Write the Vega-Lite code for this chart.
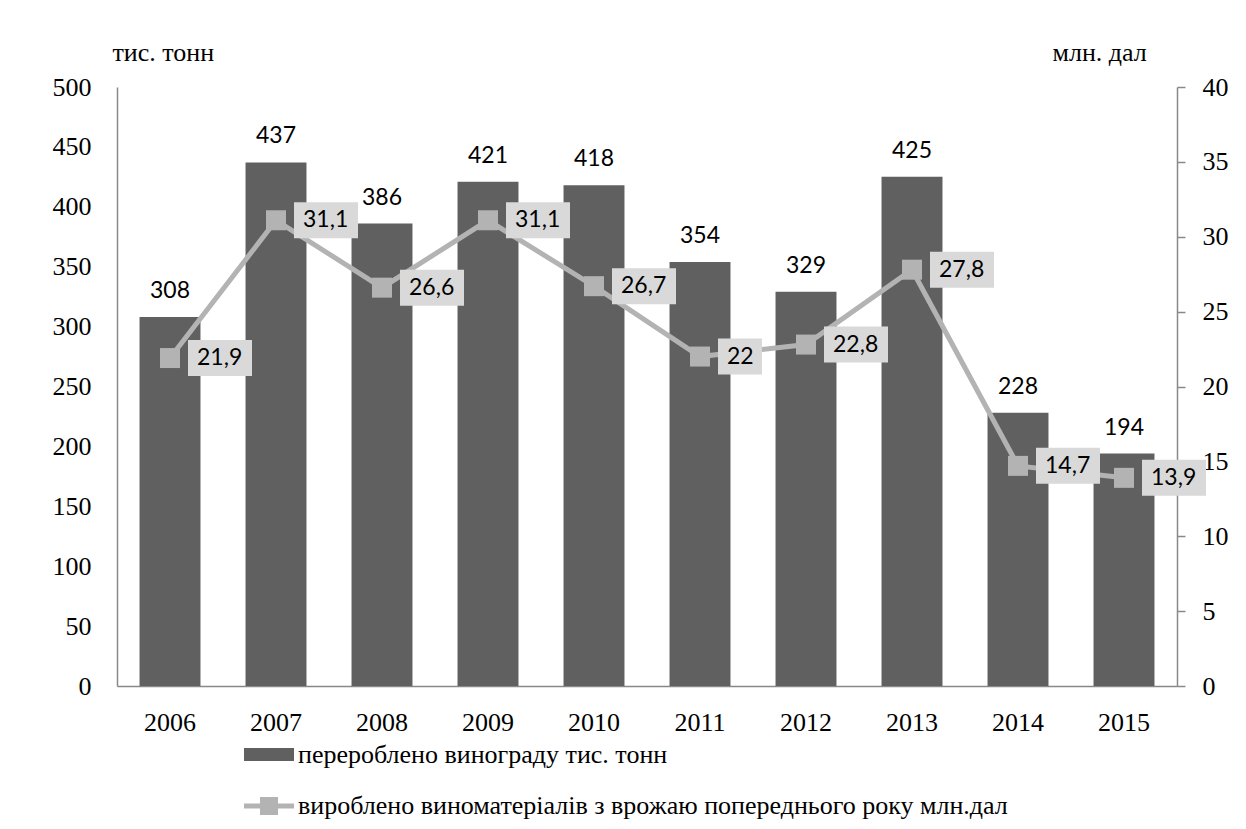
{
  "$schema": "https://vega.github.io/schema/vega-lite/v6.json",
  "autosize": {"type": "none"},
  "width": 1060,
  "height": 599,
  "padding": {"left": 117, "top": 87, "right": 69, "bottom": 143},
  "background": "white",
  "config": {
    "view": {"stroke": null},
    "axis": {
      "labelFont": "Liberation Serif",
      "labelFontSize": 26,
      "labelColor": "#000000",
      "domainColor": "#898989",
      "domainWidth": 1.5,
      "tickColor": "#898989",
      "tickWidth": 1.5,
      "grid": false,
      "titleFont": "Liberation Serif",
      "titleFontSize": 26,
      "titleFontWeight": "normal",
      "titleColor": "#000000"
    },
    "legend": {
      "orient": "none",
      "padding": 0,
      "labelFont": "Liberation Serif",
      "labelFontSize": 26,
      "labelColor": "#000000",
      "labelOffset": 4,
      "labelLimit": 0,
      "symbolStrokeWidth": 0,
      "symbolOpacity": 1,
      "symbolSize": 2500
    }
  },
  "data": {
    "values": [
      {"year": "2006", "grapes": 308, "wine": 21.9, "wineLabel": "21,9"},
      {"year": "2007", "grapes": 437, "wine": 31.1, "wineLabel": "31,1"},
      {"year": "2008", "grapes": 386, "wine": 26.6, "wineLabel": "26,6"},
      {"year": "2009", "grapes": 421, "wine": 31.1, "wineLabel": "31,1"},
      {"year": "2010", "grapes": 418, "wine": 26.7, "wineLabel": "26,7"},
      {"year": "2011", "grapes": 354, "wine": 22.0, "wineLabel": "22"},
      {"year": "2012", "grapes": 329, "wine": 22.8, "wineLabel": "22,8"},
      {"year": "2013", "grapes": 425, "wine": 27.8, "wineLabel": "27,8"},
      {"year": "2014", "grapes": 228, "wine": 14.7, "wineLabel": "14,7"},
      {"year": "2015", "grapes": 194, "wine": 13.9, "wineLabel": "13,9"}
    ]
  },
  "encoding": {
    "x": {
      "field": "year",
      "type": "ordinal",
      "scale": {"paddingInner": 0.425, "paddingOuter": 0.2125},
      "axis": {
        "title": null,
        "labelAngle": 0,
        "ticks": false,
        "labelPadding": 23,
        "labelBaseline": "top"
      }
    }
  },
  "layer": [
    {
      "encoding": {
        "y": {
          "field": "grapes",
          "type": "quantitative",
          "scale": {"domain": [0, 500], "nice": false},
          "axis": {
            "orient": "left",
            "values": [0, 50, 100, 150, 200, 250, 300, 350, 400, 450, 500],
            "ticks": false,
            "labelPadding": 26,
            "title": "тис. тонн",
            "titleAngle": 0,
            "titleAlign": "left",
            "titleBaseline": "middle",
            "titleX": -5,
            "titleY": -35
          }
        }
      },
      "layer": [
        {
          "mark": {"type": "bar"},
          "encoding": {
            "fill": {
              "datum": "перероблено винограду тис. тонн",
              "type": "nominal",
              "scale": {"range": ["#606060"]},
              "legend": {
                "title": null,
                "legendX": 127,
                "legendY": 642.5,
                "symbolType": "M-1,-0.26H1V0.26H-1Z"
              }
            }
          }
        },
        {
          "mark": {"type": "text", "font": "Lato", "fontSize": 23, "color": "#000000", "dy": -19, "baseline": "alphabetic"},
          "encoding": {"text": {"field": "grapes", "type": "quantitative"}}
        }
      ]
    },
    {
      "encoding": {
        "y": {
          "field": "wine",
          "type": "quantitative",
          "scale": {"domain": [0, 40], "nice": false},
          "axis": {
            "orient": "right",
            "values": [0, 5, 10, 15, 20, 25, 30, 35, 40],
            "ticks": true,
            "tickSize": 8,
            "labelPadding": 17,
            "title": "млн. дал",
            "titleAngle": 0,
            "titleAlign": "left",
            "titleBaseline": "middle",
            "titleX": -125,
            "titleY": -35
          }
        }
      },
      "layer": [
        {
          "mark": {"type": "line", "color": "#b3b3b3", "strokeWidth": 5},
          "encoding": {}
        },
        {
          "mark": {"type": "square", "size": 400, "filled": true, "opacity": 1},
          "encoding": {
            "color": {
              "datum": "вироблено виноматеріалів з врожаю попереднього року млн.дал",
              "type": "nominal",
              "scale": {"range": ["#b3b3b3"]},
              "legend": {
                "title": null,
                "legendX": 127,
                "legendY": 694,
                "symbolType": "M-1,-0.1H-0.36V-0.36H0.36V-0.1H1V0.1H0.36V0.36H-0.36V0.1H-1Z"
              }
            }
          }
        },
        {
          "mark": {"type": "point", "filled": true, "fill": "#d9d9d9", "strokeWidth": 0, "opacity": 1, "size": 400},
          "encoding": {
            "shape": {
              "condition": {"test": "datum.wine === 22", "value": "M1.8,-1.8H6.2V1.8H1.8Z"},
              "value": "M1.8,-1.8H8.2V1.8H1.8Z"
            }
          }
        },
        {
          "mark": {"type": "text", "font": "Lato", "fontSize": 23, "color": "#000000", "align": "left", "baseline": "middle", "dx": 27},
          "encoding": {"text": {"field": "wineLabel", "type": "nominal"}}
        }
      ]
    }
  ],
  "resolve": {"scale": {"y": "independent"}, "axis": {"y": "independent"}}
}
